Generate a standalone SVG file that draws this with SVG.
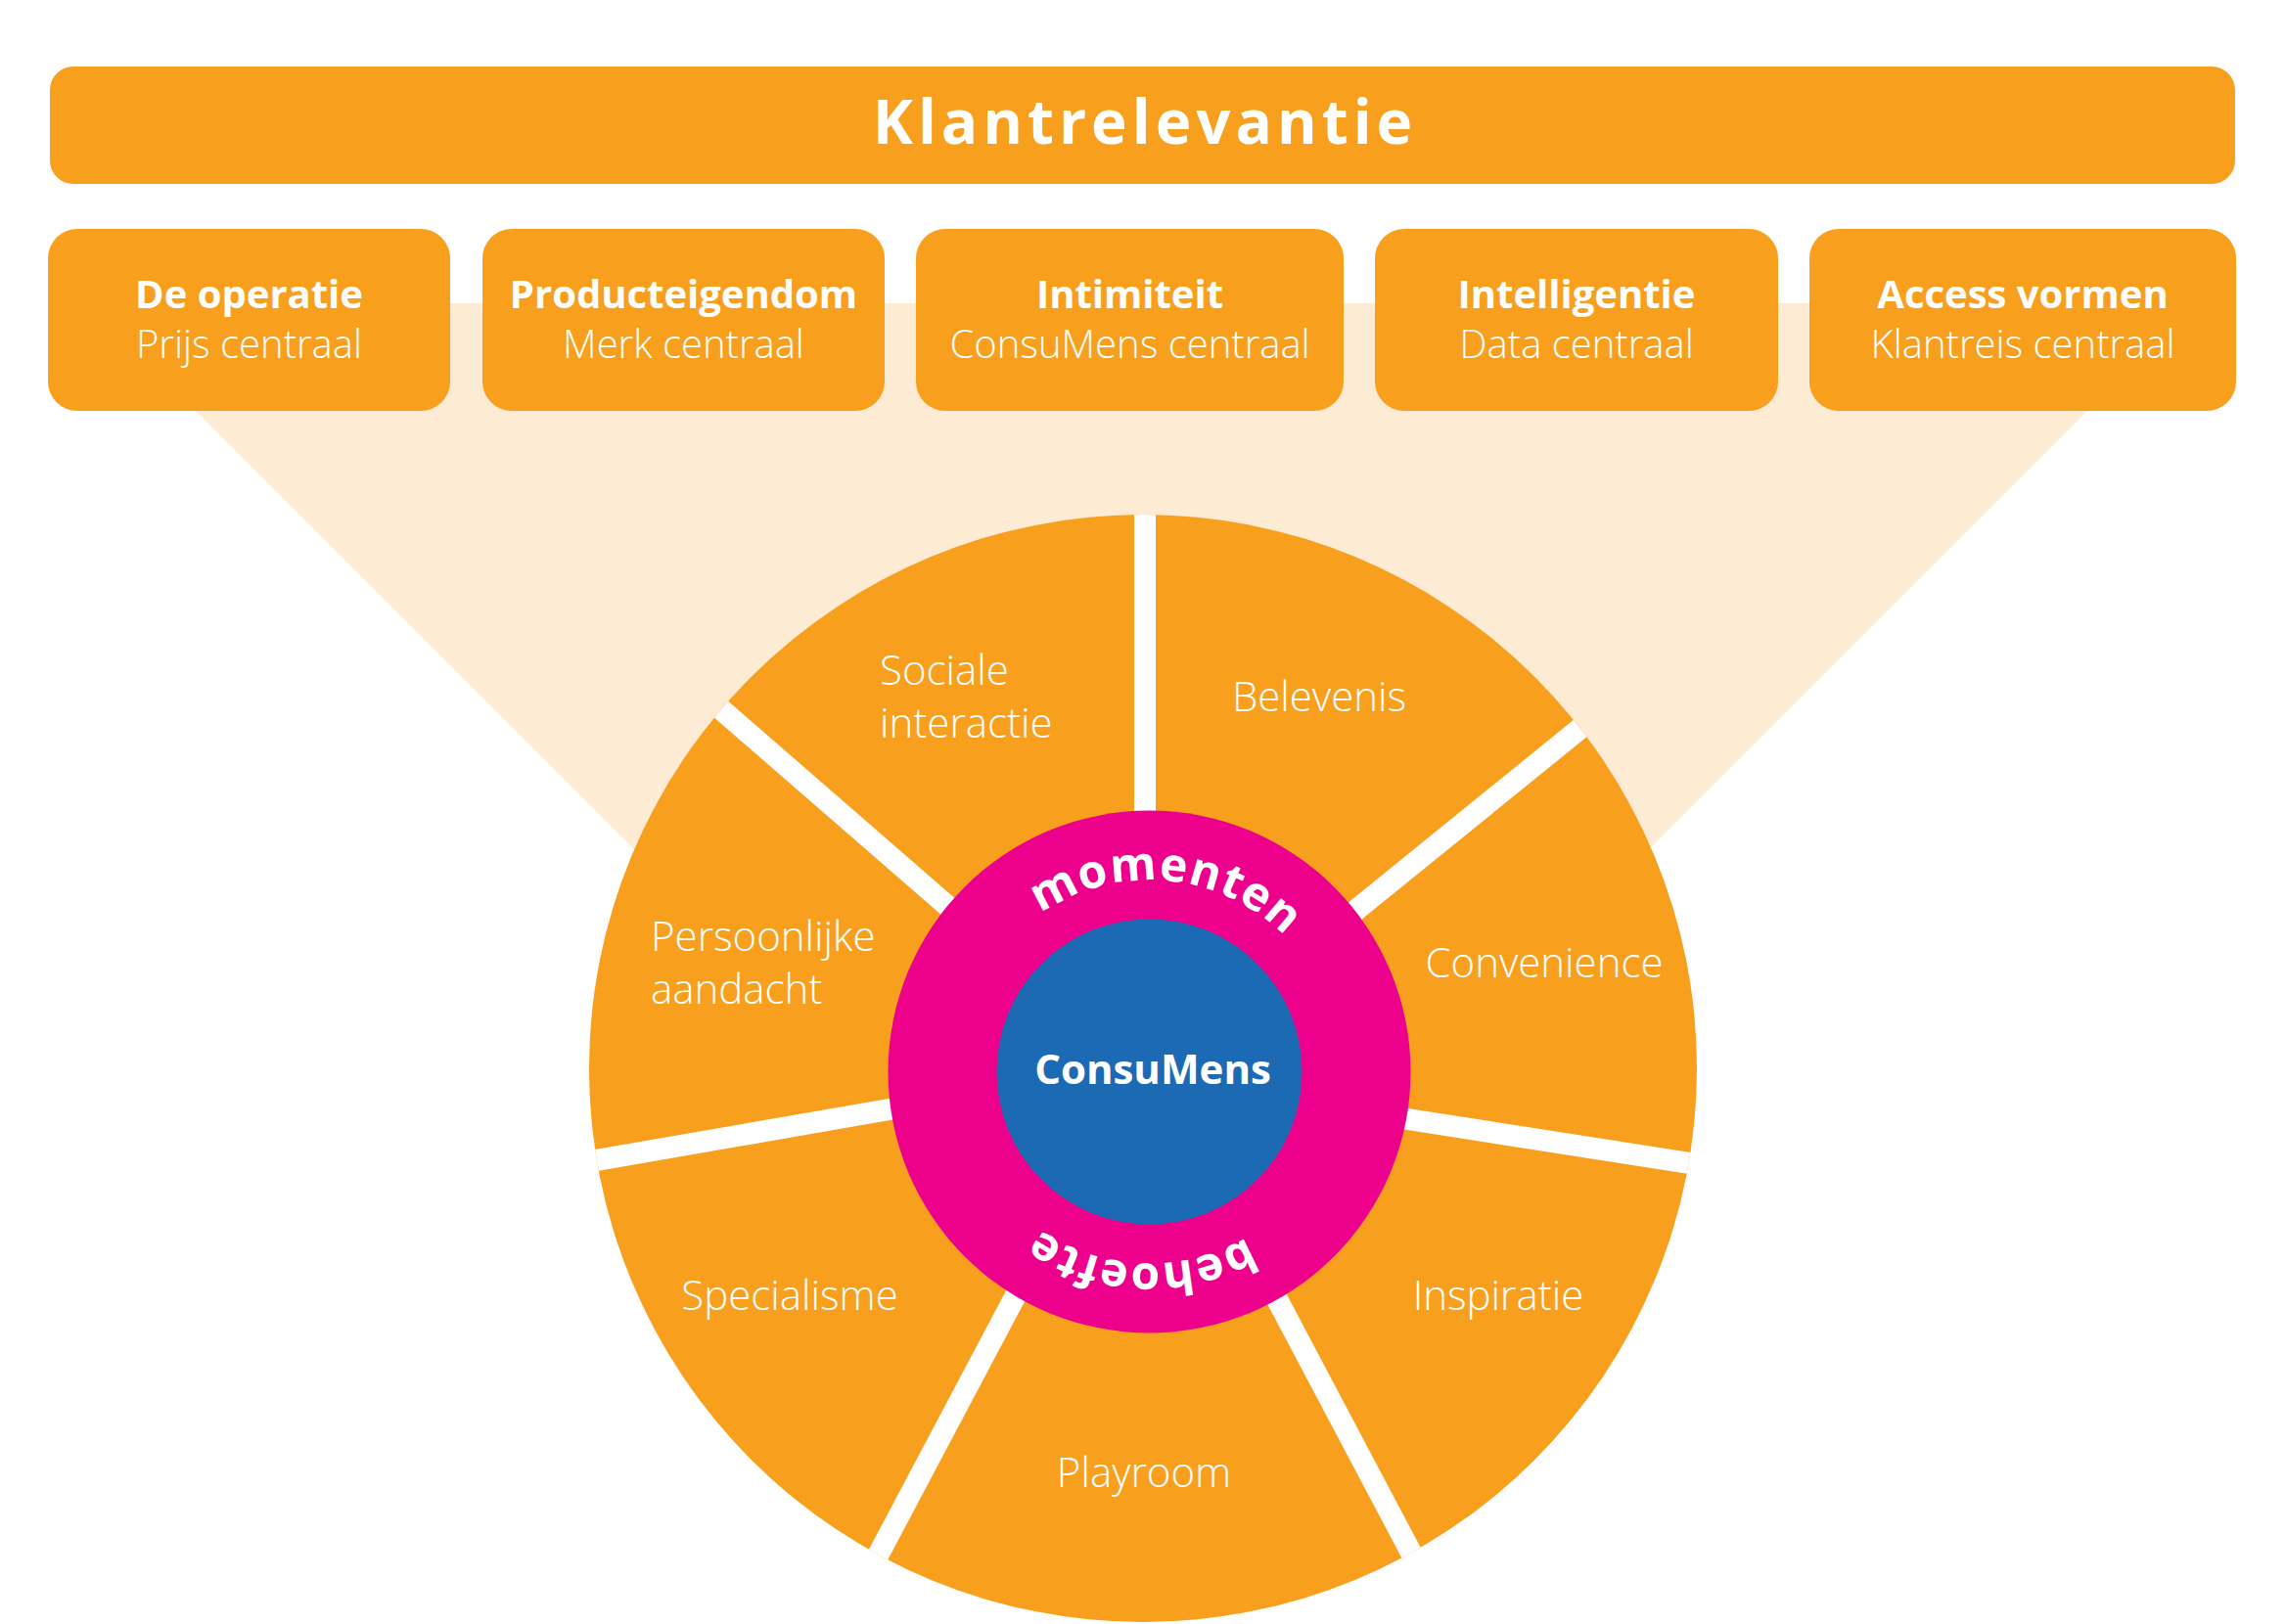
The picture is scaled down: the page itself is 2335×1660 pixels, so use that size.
<svg xmlns="http://www.w3.org/2000/svg" width="2335" height="1660" viewBox="0 0 2335 1660">
<defs>
<style>
.or{fill:#F99F1E}
.t{font-family:"Open Sans","Noto Sans","Liberation Sans",sans-serif;fill:#fff}
.lt{font-weight:300}
.bt{font-size:40px;font-weight:700;text-anchor:middle}
.st{font-size:40px;text-anchor:middle}
.seg{font-size:42px}
.mid{text-anchor:middle}
.gap{stroke:#fff;stroke-width:22;fill:none}
.ring{font-size:48px;font-weight:700;letter-spacing:1px;text-anchor:middle}
</style>
<clipPath id="discClip"><circle cx="1168" cy="1092" r="566"/></clipPath>
<path id="ringPath" d="M978.5,1095.5 A196,196 0 0 1 1370.5,1095.5 A196,196 0 0 1 978.5,1095.5"/>
</defs>
<rect width="2335" height="1660" fill="#fff"/>
<polygon id="fan" points="90,310 2243,310 1166.5,1386.5" fill="#FDEBD3"/>
<g id="header">
<rect x="51" y="68" width="2233" height="120" rx="24" class="or"/>
<text x="1170" y="147" class="t" font-size="62" font-weight="700" letter-spacing="5" text-anchor="middle">Klantrelevantie</text>
</g>
<g id="box-operatie">
<rect x="49" y="234" width="411" height="186" rx="30" class="or"/>
<text x="254.5" y="315" class="t bt">De operatie</text>
<text x="254.5" y="366" class="t lt st">Prijs centraal</text>
</g>
<g id="box-producteigendom">
<rect x="493" y="234" width="411" height="186" rx="30" class="or"/>
<text x="698.5" y="315" class="t bt">Producteigendom</text>
<text x="698.5" y="366" class="t lt st">Merk centraal</text>
</g>
<g id="box-intimiteit">
<rect x="936" y="234" width="437" height="186" rx="30" class="or"/>
<text x="1154.5" y="315" class="t bt">Intimiteit</text>
<text x="1154.5" y="366" class="t lt st">ConsuMens centraal</text>
</g>
<g id="box-intelligentie">
<rect x="1405" y="234" width="412" height="186" rx="30" class="or"/>
<text x="1611" y="315" class="t bt">Intelligentie</text>
<text x="1611" y="366" class="t lt st">Data centraal</text>
</g>
<g id="box-access">
<rect x="1849" y="234" width="436" height="186" rx="30" class="or"/>
<text x="2067" y="315" class="t bt">Access vormen</text>
<text x="2067" y="366" class="t lt st">Klantreis centraal</text>
</g>
<g id="wheel">
<circle cx="1168" cy="1092" r="566" class="or"/>
<g id="connectors" clip-path="url(#discClip)" class="gap">
<line x1="1170" y1="500" x2="1170" y2="870"/>
<line x1="1645" y1="720" x2="1354" y2="956"/>
<line x1="1765" y1="1195" x2="1400" y2="1138"/>
<line x1="1461" y1="1623" x2="1287" y2="1294"/>
<line x1="878" y1="1626" x2="1056" y2="1290"/>
<line x1="569" y1="1193" x2="949" y2="1127"/>
<line x1="707" y1="699" x2="998" y2="952"/>
</g>
</g>
<g id="seg-sociale"><text class="t lt seg" x="899" y="700">Sociale</text><text class="t lt seg" x="899" y="754">interactie</text></g>
<g id="seg-belevenis"><text class="t lt seg mid" x="1348" y="727">Belevenis</text></g>
<g id="seg-convenience"><text class="t lt seg mid" x="1578" y="999">Convenience</text></g>
<g id="seg-inspiratie"><text class="t lt seg mid" x="1531" y="1339">Inspiratie</text></g>
<g id="seg-playroom"><text class="t lt seg mid" x="1169" y="1520">Playroom</text></g>
<g id="seg-specialisme"><text class="t lt seg mid" x="807" y="1339">Specialisme</text></g>
<g id="seg-persoonlijke"><text class="t lt seg" x="665" y="972">Persoonlijke</text><text class="t lt seg" x="665" y="1026">aandacht</text></g>
<g id="behoefte-momenten">
<circle cx="1174.5" cy="1095.5" r="267" fill="#EC008C"/>
<text class="t ring"><textPath href="#ringPath" startOffset="326">momenten</textPath></text>
<text class="t ring"><textPath href="#ringPath" startOffset="931">behoefte</textPath></text>
</g>
<g id="consumens">
<circle cx="1174.5" cy="1095.5" r="156" fill="#1B6AB3"/>
<text x="1178" y="1108" class="t" font-size="42" font-weight="700" text-anchor="middle">ConsuMens</text>
</g>
</svg>
